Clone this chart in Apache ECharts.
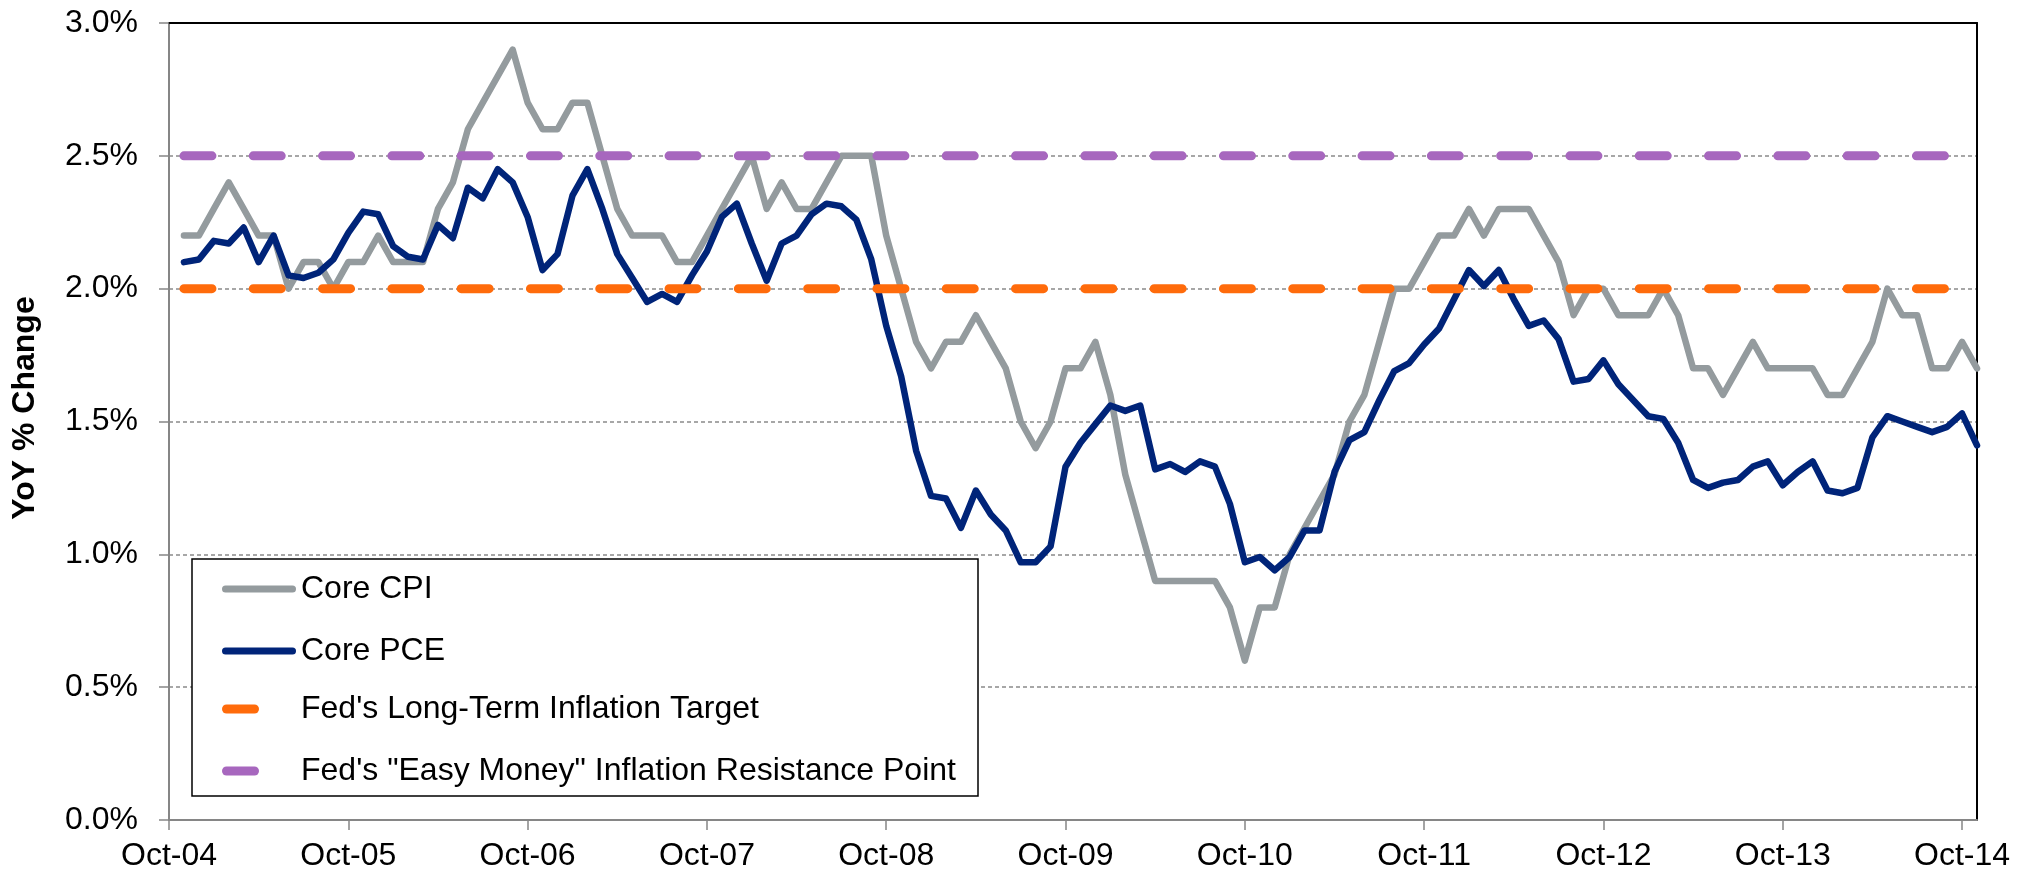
<!DOCTYPE html>
<html>
<head>
<meta charset="utf-8">
<script src="https://cdn.jsdelivr.net/npm/echarts@6/dist/echarts.min.js"></script>
<style>
  html, body { margin: 0; padding: 0; background: #fff; }
  #chart { width: 2026px; height: 875px; }
</style>
</head>
<body>
<div id="chart"></div>
<script>
// ---- Data ----
const MONTH_NAMES = ['Jan','Feb','Mar','Apr','May','Jun','Jul','Aug','Sep','Oct','Nov','Dec'];
const START_YEAR = 2004, START_MONTH = 9;   // Oct-04 (axis start)
const N_MONTHS = 122;                        // Oct-04 .. Nov-14

// Core CPI YoY %, Nov-04 .. Nov-14
const coreCPI = [
  2.2, 2.2,
  2.3, 2.4, 2.3, 2.2, 2.2, 2.0, 2.1, 2.1, 2.0, 2.1, 2.1, 2.2,
  2.1, 2.1, 2.1, 2.3, 2.4, 2.6, 2.7, 2.8, 2.9, 2.7, 2.6, 2.6,
  2.7, 2.7, 2.5, 2.3, 2.2, 2.2, 2.2, 2.1, 2.1, 2.2, 2.3, 2.4,
  2.5, 2.3, 2.4, 2.3, 2.3, 2.4, 2.5, 2.5, 2.5, 2.2, 2.0, 1.8,
  1.7, 1.8, 1.8, 1.9, 1.8, 1.7, 1.5, 1.4, 1.5, 1.7, 1.7, 1.8,
  1.6, 1.3, 1.1, 0.9, 0.9, 0.9, 0.9, 0.9, 0.8, 0.6, 0.8, 0.8,
  1.0, 1.1, 1.2, 1.3, 1.5, 1.6, 1.8, 2.0, 2.0, 2.1, 2.2, 2.2,
  2.3, 2.2, 2.3, 2.3, 2.3, 2.2, 2.1, 1.9, 2.0, 2.0, 1.9, 1.9,
  1.9, 2.0, 1.9, 1.7, 1.7, 1.6, 1.7, 1.8, 1.7, 1.7, 1.7, 1.7,
  1.6, 1.6, 1.7, 1.8, 2.0, 1.9, 1.9, 1.7, 1.7, 1.8, 1.7
];

// Core PCE YoY %, Nov-04 .. Nov-14
const corePCE = [
  2.10, 2.11,
  2.18, 2.17, 2.23, 2.10, 2.20, 2.05, 2.04, 2.06, 2.11, 2.21, 2.29, 2.28,
  2.16, 2.12, 2.11, 2.24, 2.19, 2.38, 2.34, 2.45, 2.40, 2.27, 2.07, 2.13,
  2.35, 2.45, 2.30, 2.13, 2.04, 1.95, 1.98, 1.95, 2.05, 2.14, 2.27, 2.32,
  2.17, 2.03, 2.17, 2.20, 2.28, 2.32, 2.31, 2.26, 2.11, 1.86, 1.67, 1.39,
  1.22, 1.21, 1.10, 1.24, 1.15, 1.09, 0.97, 0.97, 1.03, 1.33, 1.42, 1.49,
  1.56, 1.54, 1.56, 1.32, 1.34, 1.31, 1.35, 1.33, 1.19, 0.97, 0.99, 0.94,
  0.99, 1.09, 1.09, 1.31, 1.43, 1.46, 1.58, 1.69, 1.72, 1.79, 1.85, 1.96,
  2.07, 2.01, 2.07, 1.96, 1.86, 1.88, 1.81, 1.65, 1.66, 1.73, 1.64, 1.58,
  1.52, 1.51, 1.42, 1.28, 1.25, 1.27, 1.28, 1.33, 1.35, 1.26, 1.31, 1.35,
  1.24, 1.23, 1.25, 1.44, 1.52, 1.50, 1.48, 1.46, 1.48, 1.53, 1.41
];

const fedTarget = 2.0;        // Fed's Long-Term Inflation Target
const easyMoneyPoint = 2.5;   // Fed's "Easy Money" Inflation Resistance Point

const yTicks = { min: 0, max: 3, interval: 0.5 };

const seriesNames = [
  'Core CPI',
  'Core PCE',
  "Fed's Long-Term Inflation Target",
  "Fed's \"Easy Money\" Inflation Resistance Point"
];

// ---- Build categories ----
const categories = [];
for (let i = 0; i < N_MONTHS; i++) {
  const m = (START_MONTH + i) % 12;
  const y = START_YEAR + Math.floor((START_MONTH + i) / 12);
  categories.push(MONTH_NAMES[m] + '-' + String(y % 100).padStart(2, '0'));
}
const pad = arr => [null].concat(arr);   // data starts at Nov-04
const constant = v => [null].concat(coreCPI.map(() => v));

const FONT = "'Liberation Sans', Arial, sans-serif";
const GRAY_AXIS = '#868686';
const COLORS = ['#949B9E', '#002479', '#FF6B0B', '#A767BE'];

// capsule icons for the legend
const LONG_CAPSULE = 'path://M3.5,0 L70.5,0 A3.5,3.5 0 0 1 70.5,7 L3.5,7 A3.5,3.5 0 0 1 3.5,0 Z';
const SHORT_CAPSULE = 'path://M4.5,0 L32.5,0 A4.5,4.5 0 0 1 32.5,9 L4.5,9 A4.5,4.5 0 0 1 4.5,0 Z';

const legendText = { fontFamily: FONT, fontSize: 32, color: '#000', lineHeight: 30 };

const chart = echarts.init(document.getElementById('chart'), null, { renderer: 'canvas' });
chart.setOption({
  backgroundColor: '#ffffff',
  animation: false,
  grid: { left: 169, right: 49, top: 23, bottom: 55, containLabel: false },
  xAxis: [{
    type: 'category',
    data: categories,
    boundaryGap: false,
    axisLine: { onZero: false, lineStyle: { color: GRAY_AXIS, width: 2 } },
    axisTick: { show: true, interval: 11, length: 10, lineStyle: { color: GRAY_AXIS, width: 1.5 } },
    axisLabel: { interval: 11, margin: 20, color: '#000', fontFamily: FONT, fontSize: 32 },
    splitLine: { show: false }
  }, {
    type: 'category',
    data: categories,
    boundaryGap: false,
    position: 'top',
    axisLine: { show: true, onZero: false, lineStyle: { color: '#000', width: 2 } },
    axisTick: { show: false },
    axisLabel: { show: false },
    splitLine: { show: false }
  }],
  yAxis: [{
    type: 'value',
    min: yTicks.min, max: yTicks.max, interval: yTicks.interval,
    name: 'YoY % Change',
    nameLocation: 'middle',
    nameGap: 128,
    nameTextStyle: { fontFamily: FONT, fontWeight: 'bold', fontSize: 32, color: '#000', padding: [0, 0, 0, 27] },
    axisLine: { show: true, onZero: false, lineStyle: { color: GRAY_AXIS, width: 2 } },
    axisTick: { show: true, length: 10, lineStyle: { color: GRAY_AXIS, width: 1.5 } },
    axisLabel: { margin: 31, color: '#000', fontFamily: FONT, fontSize: 32,
                 formatter: v => v.toFixed(1) + '%' },
    splitLine: { show: true, showMinLine: false, showMaxLine: false,
                 lineStyle: { color: '#8a8a8a', width: 1.5, type: [4, 3] } }
  }, {
    type: 'value',
    min: yTicks.min, max: yTicks.max, interval: yTicks.interval,
    position: 'right',
    axisLine: { show: true, onZero: false, lineStyle: { color: '#000', width: 2 } },
    axisTick: { show: false },
    axisLabel: { show: false },
    splitLine: { show: false }
  }],
  graphic: [{
    type: 'rect', z: 5,
    shape: { x: 192, y: 559, width: 786, height: 237 },
    style: { fill: '#ffffff', stroke: '#000', lineWidth: 1.5 }
  }],
  legend: [{
    orient: 'vertical',
    left: 222, top: 573,
    padding: 0,
    itemWidth: 74, itemHeight: 7, itemGap: 30,
    z: 10,
    selectedMode: false,
    itemStyle: { borderWidth: 0 },
    textStyle: legendText,
    data: [
      { name: seriesNames[0], icon: LONG_CAPSULE },
      { name: seriesNames[1], icon: LONG_CAPSULE }
    ]
  }, {
    orient: 'vertical',
    left: 222, top: 693,
    padding: 0,
    itemWidth: 37, itemHeight: 9, itemGap: 30,
    z: 10,
    selectedMode: false,
    itemStyle: { borderWidth: 0 },
    textStyle: Object.assign({}, legendText, { padding: [0, 0, 0, 37] }),
    data: [
      { name: seriesNames[2], icon: SHORT_CAPSULE },
      { name: seriesNames[3], icon: SHORT_CAPSULE }
    ]
  }],
  series: [
    {
      name: seriesNames[0], type: 'line', data: pad(coreCPI),
      symbol: 'none',
      lineStyle: { color: COLORS[0], width: 6.5, cap: 'round', join: 'round' },
      itemStyle: { color: COLORS[0] }
    },
    {
      name: seriesNames[1], type: 'line', data: pad(corePCE),
      symbol: 'none',
      lineStyle: { color: COLORS[1], width: 6.5, cap: 'round', join: 'round' },
      itemStyle: { color: COLORS[1] }
    },
    {
      name: seriesNames[2], type: 'line', data: constant(fedTarget),
      symbol: 'none',
      lineStyle: { color: COLORS[2], width: 9, type: [28, 41.3], cap: 'round' },
      itemStyle: { color: COLORS[2] }
    },
    {
      name: seriesNames[3], type: 'line', data: constant(easyMoneyPoint),
      symbol: 'none',
      lineStyle: { color: COLORS[3], width: 9, type: [28, 41.3], cap: 'round' },
      itemStyle: { color: COLORS[3] }
    }
  ]
});
</script>
</body>
</html>
